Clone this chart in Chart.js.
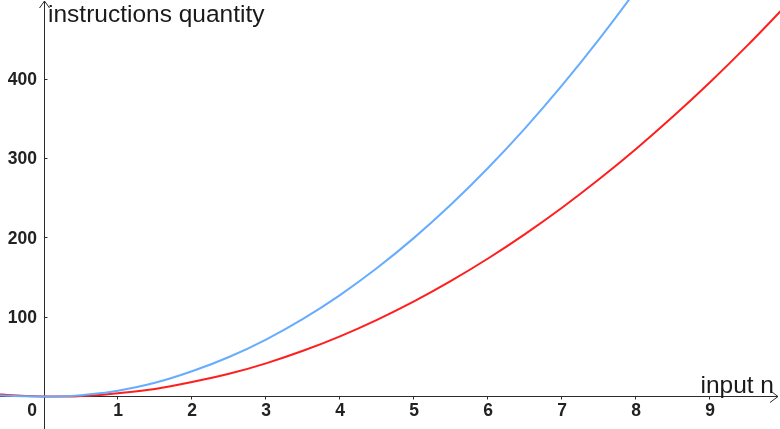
<!DOCTYPE html>
<html><head><meta charset="utf-8">
<script src="https://cdn.jsdelivr.net/npm/chart.js@4/dist/chart.umd.min.js"></script>
<style>html,body{margin:0;padding:0;background:#fff;overflow:hidden}#wrap{width:780px;height:429px;position:relative}</style>
</head><body><div id="wrap"><canvas id="c" width="780" height="429"></canvas></div>
<script>
// input size n
const inputN   = [-0.6, -0.5, -0.25, 0, 0.25, 0.5, 0.75, 1, 1.5, 2, 2.5, 3, 3.5, 4, 4.5, 5, 5.5, 6, 6.5, 7, 7.5, 8, 8.5, 9, 9.5, 10];
// blue curve (faster growing)
const blueQty  = [1.6, 1.2, 0.4, 0.1, 0.4, 1.8, 4.2, 7.5, 17.5, 32, 50, 72, 98, 128, 162, 200, 242, 288, 338, 392, 450, 512, 578, 648, 722, 800];
// red curve (slower growing)
const redQty   = [2.9, 2.2, 0.9, 0.2, 0.1, 0.8, 2.0, 4.2, 9.8, 18.5, 28.8, 42, 57.8, 76, 96.8, 120, 145.8, 174, 204.8, 238, 273.8, 312, 352.8, 396, 441.8, 490];
const xTickVals = [0, 1, 2, 3, 4, 5, 6, 7, 8, 9];
const yTickVals = [100, 200, 300, 400];
const xTitle = "input n";
const yTitle = "instructions quantity";

const blueData = inputN.map((n, i) => ({x: n, y: blueQty[i]}));
const redData  = inputN.map((n, i) => ({x: n, y: redQty[i]}));

const axesPlugin = {
  id: 'geoAxes',
  beforeDatasetsDraw(chart) {
    const {ctx, scales: {x, y}} = chart;
    const W = chart.width, H = chart.height;
    const x0 = Math.floor(x.getPixelForValue(0)) + 0.5;
    const y0 = Math.floor(y.getPixelForValue(0)) + 0.5;
    ctx.save();
    ctx.strokeStyle = '#2b2b2b';
    ctx.lineWidth = 1;
    ctx.beginPath();
    // x axis
    ctx.moveTo(0, y0); ctx.lineTo(W - 2, y0);
    // y axis
    ctx.moveTo(x0, H); ctx.lineTo(x0, 1);
    ctx.stroke();
    // arrows
    ctx.beginPath();
    ctx.moveTo(W - 10, y0 - 6); ctx.lineTo(W - 2, y0); ctx.lineTo(W - 10, y0 + 6);
    ctx.moveTo(x0 - 5, 8); ctx.lineTo(x0, 1); ctx.lineTo(x0 + 5, 8);
    ctx.stroke();
    // ticks
    ctx.beginPath();
    xTickVals.forEach(v => {
      if (v === 0) return;
      const px = Math.floor(x.getPixelForValue(v)) + 0.5;
      ctx.moveTo(px, y0); ctx.lineTo(px, y0 + 3);
    });
    yTickVals.forEach(v => {
      const py = Math.floor(y.getPixelForValue(v)) + 0.5;
      ctx.moveTo(x0, py); ctx.lineTo(x0 + 3, py);
    });
    ctx.stroke();
    ctx.restore();
  },
  afterDraw(chart) {
    const {ctx, scales: {x, y}} = chart;
    const x0 = x.getPixelForValue(0);
    const y0 = y.getPixelForValue(0);
    ctx.save();
    ctx.fillStyle = '#222';
    ctx.font = 'bold 17.5px "Liberation Sans", Arial, sans-serif';
    ctx.textBaseline = 'middle';
    ctx.textAlign = 'center';
    xTickVals.forEach(v => {
      if (v === 0) {
        ctx.textAlign = 'right';
        ctx.fillText(String(v), x0 - 7, y0 + 14);
        ctx.textAlign = 'center';
      } else {
        ctx.fillText(String(v), x.getPixelForValue(v), y0 + 14);
      }
    });
    ctx.textAlign = 'right';
    yTickVals.forEach(v => {
      ctx.fillText(String(v), x0 - 7, y.getPixelForValue(v) + 1);
    });
    ctx.font = '24.5px "Liberation Sans", Arial, sans-serif';
    ctx.fillStyle = '#1a1a1a';
    ctx.textBaseline = 'alphabetic';
    ctx.textAlign = 'left';
    ctx.fillText(yTitle, x0 + 4, 22);
    ctx.textAlign = 'right';
    ctx.fillText(xTitle, chart.width - 6, y0 - 4);
    ctx.restore();
  }
};

new Chart(document.getElementById('c'), {
  type: 'line',
  data: {
    datasets: [
      {data: blueData, borderColor: 'rgb(102,172,255)', borderWidth: 2, pointRadius: 0, cubicInterpolationMode: 'monotone', fill: false},
      {data: redData, borderColor: 'rgb(255,30,30)', borderWidth: 2, pointRadius: 0, cubicInterpolationMode: 'monotone', fill: false}
    ]
  },
  options: {
    responsive: false,
    devicePixelRatio: 1,
    animation: false,
    layout: {padding: 0},
    plugins: {legend: {display: false}, tooltip: {enabled: false}},
    scales: {
      x: {type: 'linear', min: -0.5946, max: 9.946, display: false},
      y: {type: 'linear', min: -40.7, max: 499.6, display: false}
    }
  },
  plugins: [axesPlugin]
});
</script>
</body></html>
